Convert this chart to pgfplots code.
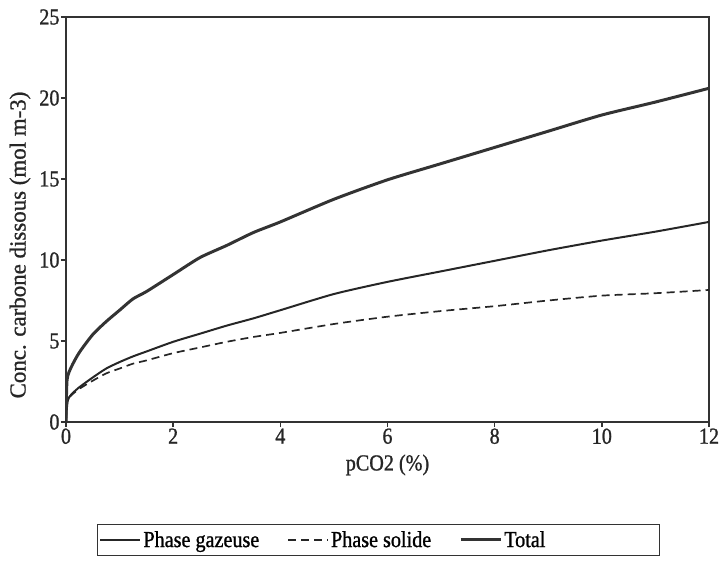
\documentclass[border=0pt]{standalone}
\usepackage{pgfplots}
\pgfplotsset{compat=1.18}
\usepackage{fontspec}
\setmainfont{Liberation Serif}[FakeStretch=0.88, FakeBold=1.0]
\newfontfamily\ylabfont{Liberation Serif}[FakeBold=1.0]
\begin{document}
\begin{tikzpicture}
\begin{axis}[
  at={(0,0)}, anchor=south west,
  scale only axis, width=643bp, height=405bp,
  xmin=0, xmax=12, ymin=0, ymax=25,
  xtick={0,2,4,6,8,10,12}, ytick={0,5,10,15,20,25},
  tick align=outside, tick pos=left, major tick length=5bp,
  axis line style={line width=1.8pt, black!80},
  every tick/.style={line width=1.5pt, black!80},
  /pgf/number format/assume math mode=true,
  tick label style={font=\fontsize{23}{25}\selectfont, black!85},
  xticklabel style={yshift=2bp},
  yticklabel style={xshift=2bp},
  xlabel={pCO2 (\%)},
  x label style={at={(axis description cs:0.5,-0.106)}, anchor=center, font=\fontsize{23}{25}\selectfont, black!85},
  ylabel={Conc. carbone dissous (mol m-3)},
  y label style={at={(axis description cs:-0.0715,0.437)}, anchor=center, rotate=0, font=\ylabfont\fontsize{23}{25}\selectfont, black!85},
  legend columns=-1,
  legend style={at={(axis description cs:0.048,-0.291)}, anchor=west,
    draw=black!80, line width=1.2pt, font=\fontsize{23}{25}\selectfont,
    inner xsep=2bp, inner ysep=5bp,
    /tikz/every odd column/.append style={column sep=0bp},
    /tikz/every even column/.append style={column sep=26bp}},
  legend image code/.code={\draw[#1] (0bp,0bp) -- (40bp,0bp);},
]
\addplot[black!85, line width=2pt, smooth, tension=0.4] coordinates {
 (0,0) (0.03,1.3) (0.1,1.7) (0.25,2.15) (0.5,2.75) (0.75,3.3) (1,3.7) (1.25,4.05) (1.5,4.35) (2,4.95) (2.5,5.45) (3,5.95) (3.5,6.4) (4,6.9) (5,7.9) (6,8.65) (7,9.3) (8,9.95) (9,10.6) (10,11.2) (11,11.75) (12,12.35)
};
\addlegendentry{Phase gazeuse}
\addplot[black!85, line width=1.7pt, dash pattern=on 8bp off 5bp, smooth, tension=0.4] coordinates {
 (0,0) (0.03,1.3) (0.1,1.65) (0.25,2.05) (0.5,2.55) (0.75,3.0) (1,3.3) (1.25,3.6) (1.5,3.8) (2,4.25) (2.5,4.6) (3,4.95) (3.5,5.25) (4,5.5) (5,6.05) (6,6.5) (7,6.85) (8,7.15) (9,7.5) (10,7.8) (11,7.95) (12,8.15)
};
\addlegendentry{Phase solide}
\addplot[black!80, line width=3pt, smooth, tension=0.4] coordinates {
 (0,0) (0.02,2.6) (0.1,3.4) (0.25,4.3) (0.5,5.4) (0.75,6.2) (1,6.9) (1.25,7.6) (1.5,8.05) (2,9.1) (2.5,10.15) (3,10.9) (3.5,11.7) (4,12.35) (5,13.75) (6,14.95) (7,15.95) (8,16.95) (9,17.95) (10,18.95) (11,19.75) (12,20.6)
};
\addlegendentry{Total}
\addlegendimage{empty legend}
\addlegendentry{\rule{80bp}{0pt}}
\end{axis}
\pgfresetboundingbox
\path[use as bounding box] (-66bp,-140bp) rectangle (657bp,422bp);
\end{tikzpicture}
\end{document}
